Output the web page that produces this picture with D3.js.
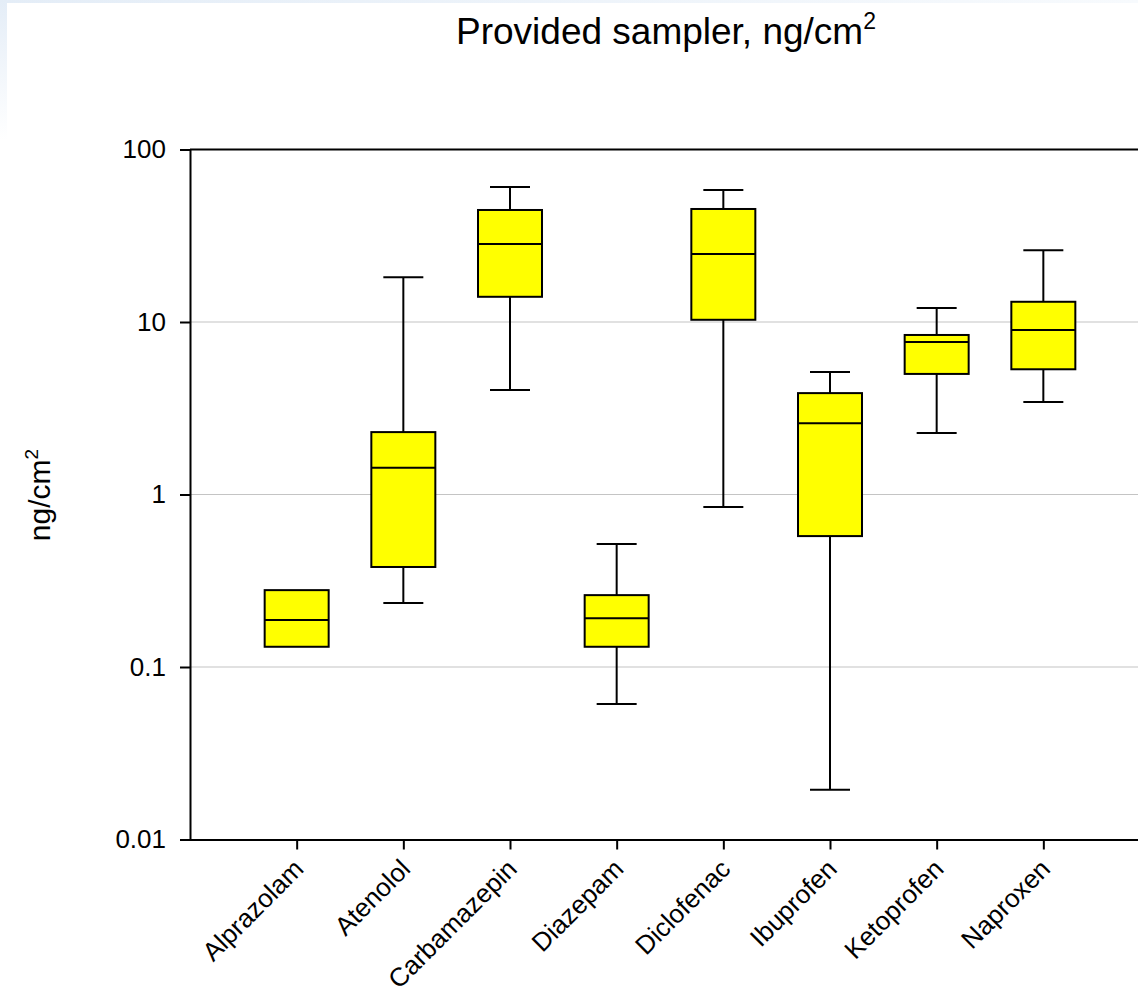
<!DOCTYPE html>
<html>
<head>
<meta charset="utf-8">
<script src="https://cdn.jsdelivr.net/npm/d3@7"></script>
<style>
  html, body { margin: 0; padding: 0; background: #fff; }
  svg { display: block; font-family: Arial, "Liberation Sans", sans-serif; }
</style>
</head>
<body>
<svg id="chart" width="1138" height="994"></svg>
<script>
const categories = ["Alprazolam", "Atenolol", "Carbamazepin", "Diazepam", "Diclofenac", "Ibuprofen", "Ketoprofen", "Naproxen"];
const whiskerLow  = [null, 0.235, 4.04, 0.061, 0.847, 0.0194, 2.27, 3.44];
const q1          = [0.131, 0.38, 14.0, 0.131, 10.3, 0.574, 5.0, 5.32];
const median      = [0.187, 1.43, 28.3, 0.192, 24.8, 2.59, 7.65, 9.0];
const q3          = [0.279, 2.30, 44.6, 0.261, 45.2, 3.87, 8.41, 13.1];
const whiskerHigh = [null, 18.2, 60.6, 0.516, 58.2, 5.13, 12.05, 26.1];
const yTicks = [0.01, 0.1, 1, 10, 100];
const yTickLabels = ["0.01", "0.1", "1", "10", "100"];

(function () {
const svg = d3.select("#chart");
const W = 1138, H = 994;
const FONT = "Arial, 'Liberation Sans', sans-serif";

// faint slide background artifact at top-left
const defs = svg.append("defs");
const g1 = defs.append("linearGradient").attr("id", "topfade").attr("x1", 0).attr("x2", 1);
g1.append("stop").attr("offset", 0).attr("stop-color", "#e4edf7");
g1.append("stop").attr("offset", 1).attr("stop-color", "#f7fafd");
const g2 = defs.append("linearGradient").attr("id", "leftfade").attr("x1", 0).attr("x2", 0).attr("y1", 0).attr("y2", 1);
g2.append("stop").attr("offset", 0).attr("stop-color", "#e4edf7");
g2.append("stop").attr("offset", 1).attr("stop-color", "#ffffff");
svg.append("rect").attr("x", 0).attr("y", 0).attr("width", W).attr("height", 3).attr("fill", "url(#topfade)");
svg.append("rect").attr("x", 0).attr("y", 0).attr("width", 7).attr("height", 140).attr("fill", "url(#leftfade)");

const pLeft = 190, pRight = 1150, pTop = 149.5, pBottom = 839.5;

const x = d3.scalePoint().domain(categories).range([pLeft, pRight]).padding(1);
const y = d3.scaleLog().domain([0.01, 100]).range([pBottom, pTop]);

// grid lines
svg.append("g").selectAll("line").data(yTicks.filter(t => t > 0.01 && t < 100)).join("line")
  .attr("x1", pLeft).attr("x2", W).attr("y1", d => y(d)).attr("y2", d => y(d))
  .attr("stroke", "#c4c4c4").attr("stroke-width", 1.2);

// top frame line
svg.append("line").attr("x1", pLeft).attr("x2", W).attr("y1", pTop).attr("y2", pTop)
  .attr("stroke", "#000").attr("stroke-width", 2);

// y axis
const yAxis = d3.axisLeft(y).tickValues(yTicks).tickFormat((d, i) => yTickLabels[i]).tickSize(10).tickPadding(14);
const ya = svg.append("g").attr("transform", `translate(${pLeft},0)`).call(yAxis);
ya.select(".domain").attr("stroke", "#000").attr("stroke-width", 2);
ya.selectAll(".tick line").attr("stroke", "#000").attr("stroke-width", 2);
ya.selectAll(".tick text").attr("font-size", 26).attr("fill", "#000").attr("font-family", FONT);

// x axis
const xAxis = d3.axisBottom(x).tickSize(10).tickSizeOuter(0);
const xa = svg.append("g").attr("transform", `translate(0,${pBottom})`).call(xAxis);
xa.select(".domain").attr("stroke", "#000").attr("stroke-width", 2);
xa.selectAll(".tick line").attr("stroke", "#000").attr("stroke-width", 2);
xa.selectAll(".tick text")
  .attr("font-size", 26).attr("fill", "#000").attr("font-family", FONT)
  .attr("text-anchor", "end").attr("dy", null).attr("x", 0).attr("y", 0)
  .attr("transform", "translate(8,31) rotate(-45)");

// boxes
const boxW = 64, capW = 40;
const data = categories.map((c, i) => ({c, lo: whiskerLow[i], q1: q1[i], med: median[i], q3: q3[i], hi: whiskerHigh[i]}));
const bg = svg.append("g").attr("stroke", "#000").attr("stroke-width", 2);
data.forEach(d => {
  const cx = x(d.c);
  if (d.hi != null) {
    bg.append("line").attr("x1", cx).attr("x2", cx).attr("y1", y(d.q3)).attr("y2", y(d.hi));
    bg.append("line").attr("x1", cx - capW/2).attr("x2", cx + capW/2).attr("y1", y(d.hi)).attr("y2", y(d.hi));
  }
  if (d.lo != null) {
    bg.append("line").attr("x1", cx).attr("x2", cx).attr("y1", y(d.q1)).attr("y2", y(d.lo));
    bg.append("line").attr("x1", cx - capW/2).attr("x2", cx + capW/2).attr("y1", y(d.lo)).attr("y2", y(d.lo));
  }
  bg.append("rect").attr("x", cx - boxW/2).attr("y", y(d.q3)).attr("width", boxW)
    .attr("height", y(d.q1) - y(d.q3)).attr("fill", "#ffff00");
  bg.append("line").attr("x1", cx - boxW/2).attr("x2", cx + boxW/2).attr("y1", y(d.med)).attr("y2", y(d.med));
});

// title
const title = svg.append("text").attr("x", 456).attr("y", 44).attr("font-size", 37).attr("fill", "#000");
title.append("tspan").text("Provided sampler, ng/cm");
title.append("tspan").attr("font-size", 23).attr("dy", -15).text("2");

// y label
const yl = svg.append("text").attr("transform", "translate(50,495) rotate(-90)")
  .attr("text-anchor", "middle").attr("font-size", 30).attr("fill", "#000");
yl.append("tspan").text("ng/cm");
yl.append("tspan").attr("font-size", 19).attr("dy", -12).text("2");
})();
</script>
</body>
</html>
